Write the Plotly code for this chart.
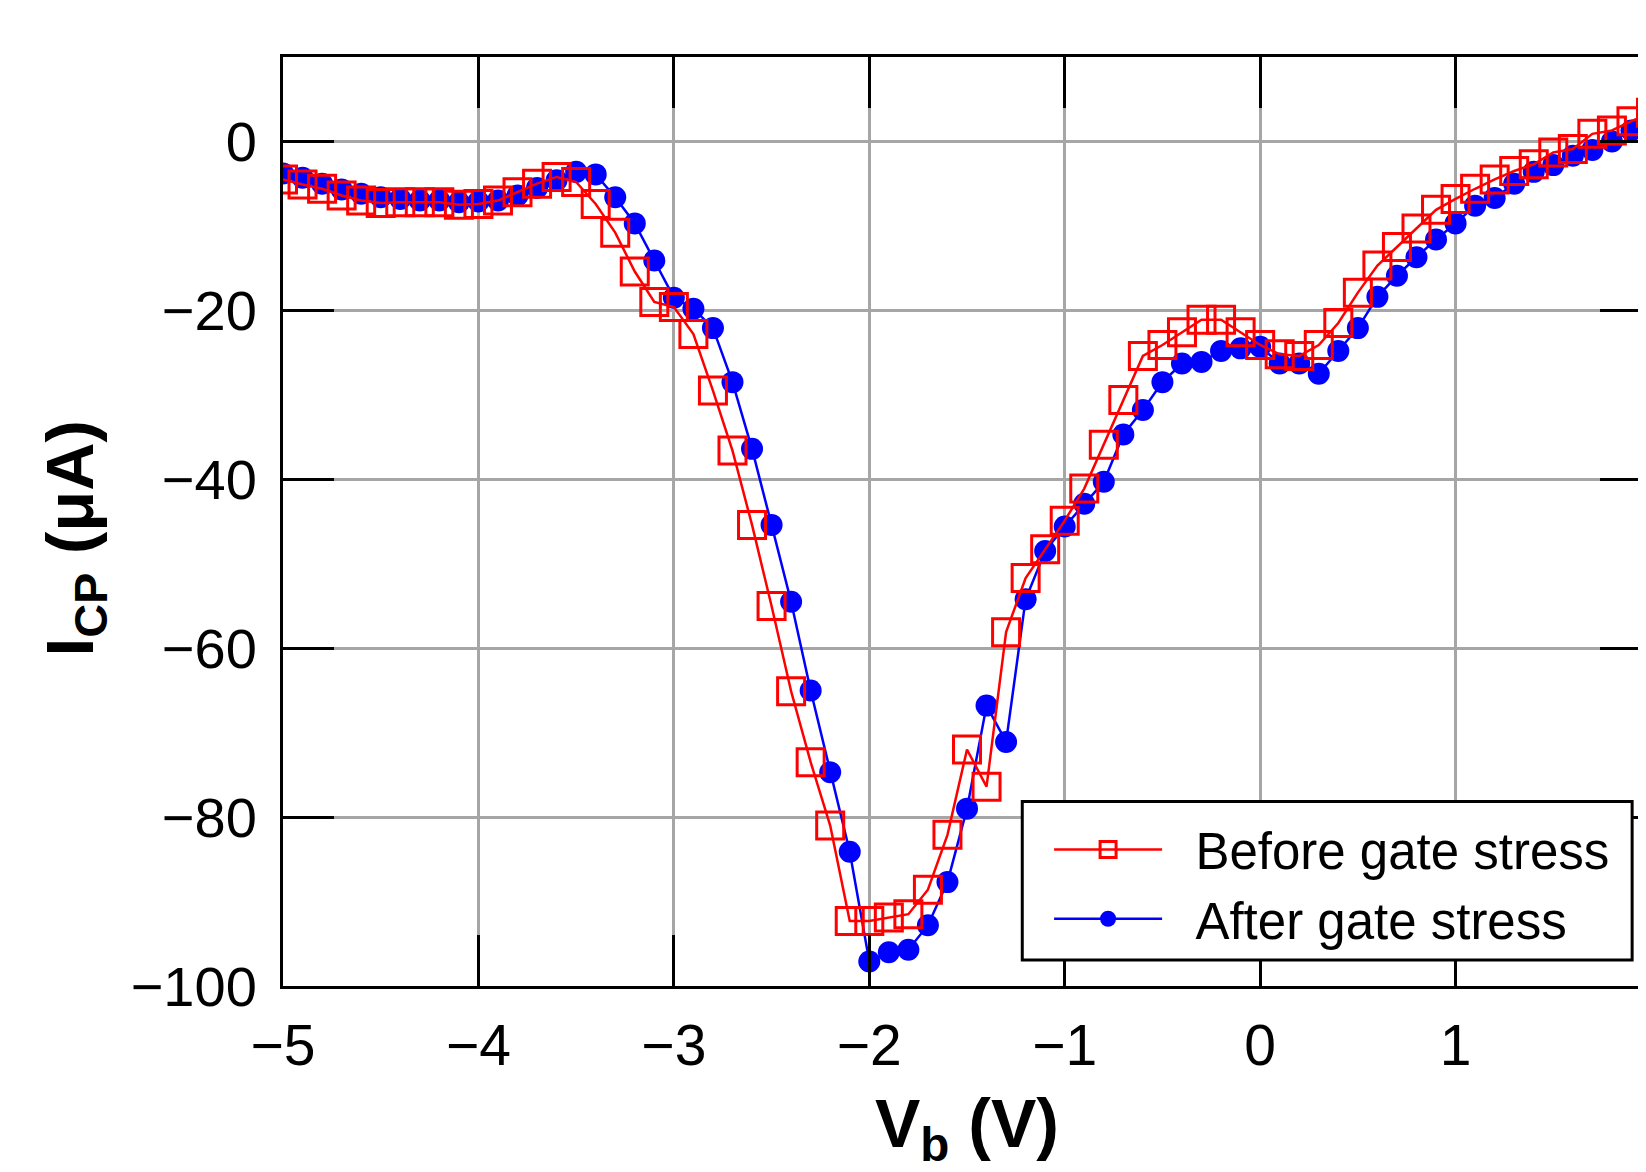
import plotly.graph_objects as go

vb = [-5.0, -4.9, -4.8, -4.7, -4.6, -4.5, -4.4, -4.3, -4.2, -4.1,
      -4.0, -3.9, -3.8, -3.7, -3.6, -3.5, -3.4, -3.3, -3.2, -3.1,
      -3.0, -2.9, -2.8, -2.7, -2.6, -2.5, -2.4, -2.3, -2.2, -2.1,
      -2.0, -1.9, -1.8, -1.7, -1.6, -1.5, -1.4, -1.3, -1.2, -1.1,
      -1.0, -0.9, -0.8, -0.7, -0.6, -0.5, -0.4, -0.3, -0.2, -0.1,
      0.0, 0.1, 0.2, 0.3, 0.4, 0.5, 0.6, 0.7, 0.8, 0.9,
      1.0, 1.1, 1.2, 1.3, 1.4, 1.5, 1.6, 1.7, 1.8, 1.9, 2.0]

icp_before = [-4.5, -5.1, -5.6, -6.4, -7.0, -7.3, -7.2, -7.2, -7.2, -7.5,
              -7.4, -7.0, -6.0, -5.0, -4.2, -4.8, -7.4, -10.8, -15.4, -19.0,
              -19.6, -22.8, -29.5, -36.6, -45.4, -55.0, -65.1, -73.5, -81.0, -92.3,
              -92.3, -91.9, -91.5, -88.6, -82.1, -72.0, -76.4, -58.1, -51.7, -48.3,
              -44.9, -41.1, -35.9, -30.6, -25.4, -24.1, -22.6, -21.1, -21.1, -22.6,
              -24.1, -25.2, -25.4, -24.1, -21.5, -17.9, -14.7, -12.5, -10.3, -8.1,
              -6.8, -5.6, -4.5, -3.5, -2.7, -1.3, -0.9, 0.9, 1.3, 2.4, 3.4]

icp_after = [-3.8, -4.3, -5.0, -5.7, -6.2, -6.6, -6.8, -7.0, -7.0, -7.2,
             -7.1, -7.0, -6.4, -5.5, -4.6, -3.6, -3.9, -6.6, -9.7, -14.1,
             -18.5, -19.8, -22.1, -28.5, -36.4, -45.4, -54.5, -65.0, -74.7, -84.1,
             -97.1, -96.0, -95.7, -92.8, -87.7, -79.0, -66.8, -71.1, -54.2, -48.5,
             -45.6, -42.9, -40.3, -34.7, -31.8, -28.5, -26.3, -26.1, -24.8, -24.5,
             -24.3, -26.3, -26.3, -27.5, -24.8, -22.1, -18.4, -15.9, -13.7, -11.6,
             -9.7, -7.6, -6.7, -5.0, -3.6, -2.8, -1.7, -1.0, 0.0, 1.3, 2.3]

x_ticks = [-5, -4, -3, -2, -1, 0, 1, 2]
y_ticks = [-100, -80, -60, -40, -20, 0]

FONT = "Liberation Sans, Arial, Helvetica, sans-serif"
NB = "\u00a0"

fig = go.Figure()
fig.add_trace(go.Scatter(
    x=vb, y=icp_after, mode="lines+markers", name=NB * 2 + "After gate stress",
    line=dict(color="#0000ff", width=2.5),
    marker=dict(symbol="circle", size=22, color="#0000ff"),
))
fig.add_trace(go.Scatter(
    x=vb, y=icp_before, mode="lines+markers", name=NB * 2 + "Before gate stress",
    line=dict(color="#ff0000", width=2.5),
    marker=dict(symbol="square-open", size=27, color="#ff0000",
                line=dict(color="#ff0000", width=3)),
))

# legend frame (white box with black border)
fig.add_shape(type="rect", xref="paper", yref="paper",
              x0=0.5404, x1=0.9862, y0=0.0279, y1=0.1986,
              fillcolor="white", line=dict(color="black", width=3), layer="above")

fig.update_layout(
    width=1646, height=1164,
    margin=dict(l=275, r=0, t=49, b=186),
    paper_bgcolor="white", plot_bgcolor="white",
    font=dict(family=FONT, size=56, color="black"),
    showlegend=True,
    legend=dict(
        x=0.5600, y=0.1095, xanchor="left", yanchor="middle",
        bgcolor="rgba(0,0,0,0)", borderwidth=0,
        font=dict(family=FONT, size=51, color="black"),
        traceorder="reversed", itemwidth=108,
    ),
    xaxis=dict(
        range=[-5, 2], tickvals=x_ticks,
        showgrid=True, gridcolor="#a6a6a6", gridwidth=2.5,
        showline=True, linecolor="black", linewidth=3, mirror="ticks",
        ticks="inside", ticklen=51, tickwidth=3, tickcolor="black",
        tickfont=dict(family=FONT, size=57, color="black"),
        ticklabelstandoff=8,
        zeroline=False,
        title=dict(text="<b>V<sub>b</sub> (V)</b>",
                   font=dict(family=FONT, size=68, color="black"), standoff=23),
    ),
    yaxis=dict(
        range=[-100, 10], tickvals=y_ticks,
        showgrid=True, gridcolor="#a6a6a6", gridwidth=2.5,
        showline=True, linecolor="black", linewidth=3, mirror="ticks",
        ticks="inside", ticklen=51, tickwidth=3, tickcolor="black",
        tickfont=dict(family=FONT, size=56, color="black"),
        ticklabelstandoff=12,
        zeroline=False,
        title=dict(text="<b>I<sub>CP</sub> (μA)\u2002</b>",
                   font=dict(family=FONT, size=67, color="black"), standoff=16),
    ),
)

fig.write_html("out.html")
